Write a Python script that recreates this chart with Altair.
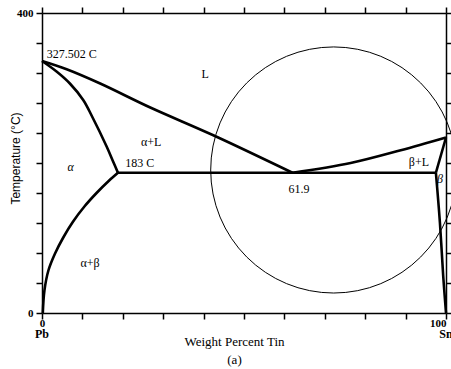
import altair as alt
import pandas as pd

# Phase boundaries (wt% Sn, temperature C)
liq_left_x = [0, 6.1, 14.4, 26.8, 42.4, 62.0]
liq_left_t = [336, 325, 306, 274, 237, 187]
liq_right_x = [62.0, 76.4, 88.8, 100]
liq_right_t = [187, 200, 217, 234]
sol_alpha_x = [0, 3.6, 6.9, 10.2, 12.4, 16.0, 17.6, 18.8]
sol_alpha_t = [336, 322, 306, 284, 262, 222, 202, 187]
solv_alpha_x = [18.8, 16.5, 13.5, 10.5, 7.7, 5.3, 3.2, 1.6, 0.6, 0.2]
solv_alpha_t = [187, 176, 160, 142, 122, 101, 79, 57, 30, 0]
eut_x = [18.8, 97.5]
eut_t = [187, 187]
sol_beta_x = [97.5, 100]
sol_beta_t = [187, 234]
solv_beta_x = [97.5, 98.5, 99.3, 100]
solv_beta_t = [187, 120, 50, 0]

boundaries = [
    ("liq_left", liq_left_x, liq_left_t),
    ("liq_right", liq_right_x, liq_right_t),
    ("sol_alpha", sol_alpha_x, sol_alpha_t),
    ("solv_alpha", solv_alpha_x, solv_alpha_t),
    ("eutectic", eut_x, eut_t),
    ("sol_beta", sol_beta_x, sol_beta_t),
    ("solv_beta", solv_beta_x, solv_beta_t),
]

# Circle marking region of interest
circle_x = [72.2]
circle_t = [190.7]

# Region / point labels
label_text = ["327.502 C", "L", "α+L", "183 C", "α", "α+β", "61.9", "β+L", "β"]
label_x = [1.2, 40.4, 27.0, 20.6, 7.1, 11.9, 61.0, 93.3, 98.5]
label_t = [346, 319, 228, 199.6, 195, 66.7, 165, 201, 179]
label_align = ["left", "center", "center", "left", "center", "center", "left", "center", "center"]
label_style = ["normal", "normal", "normal", "normal", "italic", "normal", "normal", "normal", "italic"]

end_text = ["Pb", "Sn"]
end_x = [0, 100]
end_t = [0, 0]

x_ticks = list(range(0, 101, 10))
y_ticks = list(range(0, 401, 40))

rows = []
for name, xs, ts in boundaries:
    for i, (a, b) in enumerate(zip(xs, ts)):
        rows.append({"seg": name, "order": i, "x": a, "t": b})
df = pd.DataFrame(rows)
df_circle = pd.DataFrame({"x": circle_x, "t": circle_t})
df_lab = pd.DataFrame({"text": label_text, "x": label_x, "t": label_t,
                       "align": label_align, "style": label_style})
df_end = pd.DataFrame({"text": end_text, "x": end_x, "t": end_t})

FONT = "Liberation Serif"
xscale = alt.Scale(domain=[0, 100], nice=False, zero=False)
yscale = alt.Scale(domain=[0, 400], nice=False, zero=False)

common = dict(domainColor="black", domainWidth=1.5, tickColor="black", tickSize=6,
              tickWidth=1.5, grid=False, labelFont=FONT, labelFontSize=11,
              labelFontWeight="bold", labelColor="black")

x_bottom = alt.Axis(orient="bottom", values=x_ticks,
                    labelExpr="datum.value == 0 || datum.value == 100 ? datum.label : ''",
                    labelAlign={"condition": {"test": "datum.value == 100", "value": "right"}, "value": "center"},
                    labelPadding=-2,
                    title=["Weight Percent Tin", "(a)"], titleFont=FONT, titleFontSize=13,
                    titleFontWeight="normal", titleColor="black", titleLineHeight=18,
                    titleX=192, titleY=22, titleBaseline="top", titleAlign="center",
                    **common)
y_left = alt.Axis(orient="left", values=y_ticks,
                  labelExpr="datum.value == 0 || datum.value == 400 ? datum.label : ''",
                  labelPadding=3,
                  title="Temperature (°C)", titleFont="Liberation Sans", titleFontSize=12,
                  titleFontWeight="normal", titleColor="black", titleX=-27, titleY=145,
                  titleBaseline="middle", titleAlign="center", titleAngle=270,
                  **common)
x_top = alt.Axis(orient="top", values=x_ticks, labels=False, title=None, **common)
y_right = alt.Axis(orient="right", values=y_ticks, labels=False, title=None, **common)

lines = alt.Chart(df).mark_line(color="black", strokeWidth=2.6, strokeJoin="round",
                                interpolate="catmull-rom").encode(
    x=alt.X("x:Q", scale=xscale, axis=x_bottom),
    y=alt.Y("t:Q", scale=yscale, axis=y_left),
    detail="seg:N",
    order="order:Q",
)

circle = alt.Chart(df_circle).mark_point(shape="circle", size=60516, filled=False,
                                         color="black", strokeWidth=1, opacity=1).encode(
    x=alt.X("x:Q", scale=xscale, axis=x_top),
    y=alt.Y("t:Q", scale=yscale, axis=y_right),
)

text_layers = []
for al in ["left", "center"]:
    for st in ["normal", "italic"]:
        sub = df_lab[(df_lab["align"] == al) & (df_lab["style"] == st)]
        if len(sub) == 0:
            continue
        text_layers.append(
            alt.Chart(sub).mark_text(font=FONT, fontSize=12, fontStyle=st, color="black",
                                     align=al, baseline="middle").encode(
                x=alt.X("x:Q", scale=xscale, axis=None),
                y=alt.Y("t:Q", scale=yscale, axis=None),
                text="text:N",
            )
        )

ends = alt.Chart(df_end).mark_text(
    font=FONT, fontSize=12, fontWeight="bold", color="black", align="center",
    baseline="middle", dy=21).encode(
    x=alt.X("x:Q", scale=xscale, axis=None),
    y=alt.Y("t:Q", scale=yscale, axis=None),
    text="text:N",
)

chart = alt.layer(lines, circle, *text_layers, ends).resolve_axis(
    x="independent", y="independent"
).properties(
    width=404, height=300,
    autosize=alt.AutoSizeParams(type="none"),
    padding={"left": 42, "top": 13, "right": 5, "bottom": 56},
    background="white",
).configure_view(stroke=None)

chart.save("out.html", embed_options={"renderer": "svg", "actions": False})
